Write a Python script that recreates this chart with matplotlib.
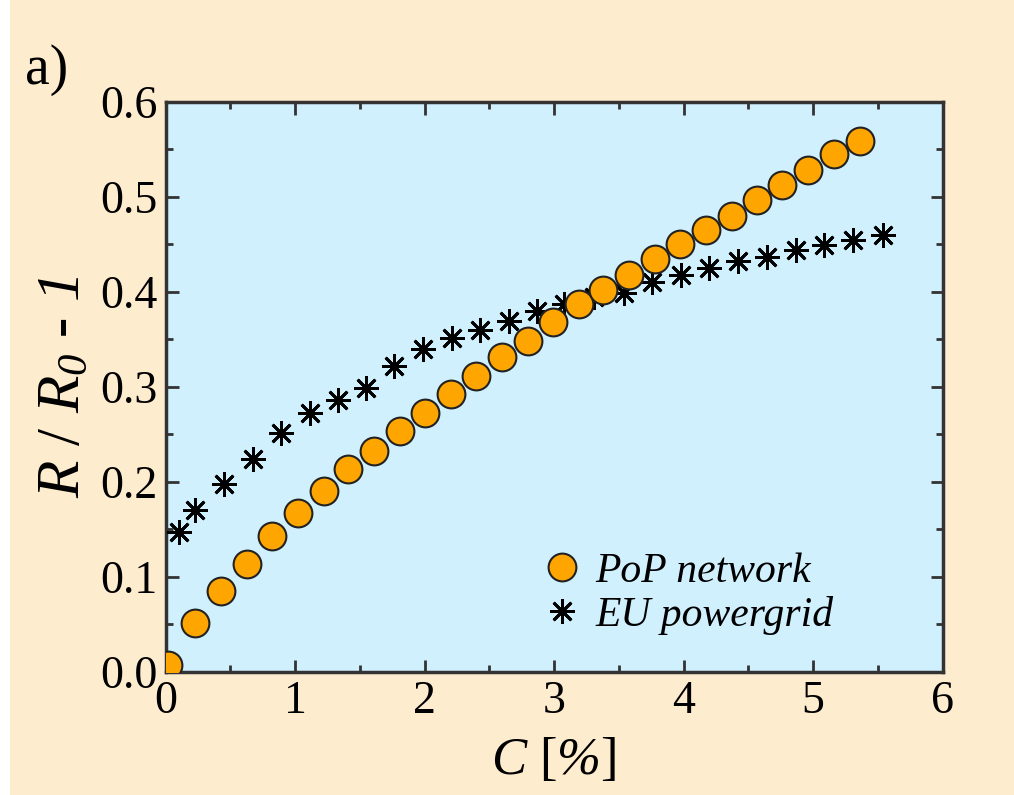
import numpy as np
import matplotlib.pyplot as plt
from matplotlib.patches import Rectangle
from matplotlib.ticker import MultipleLocator, FormatStrFormatter

# PoP network
pop_c = [0.02, 0.23, 0.43, 0.63, 0.82, 1.02, 1.22, 1.41, 1.61, 1.81, 2.00, 2.20,
         2.40, 2.60, 2.80, 2.99, 3.19, 3.38, 3.58, 3.78, 3.97, 4.17, 4.37, 4.57,
         4.76, 4.96, 5.16, 5.36]
pop_r = [0.007, 0.052, 0.085, 0.114, 0.143, 0.167, 0.190, 0.214, 0.233, 0.254, 0.272, 0.292,
         0.311, 0.331, 0.348, 0.368, 0.387, 0.402, 0.418, 0.434, 0.450, 0.465, 0.480, 0.497,
         0.512, 0.528, 0.545, 0.559]

# EU powergrid
eu_c = [0.0, 0.105, 0.227, 0.451, 0.672, 0.889, 1.111, 1.327, 1.549, 1.766, 1.988, 2.212,
        2.431, 2.65, 2.864, 3.075, 3.307, 3.54, 3.759, 3.977, 4.197, 4.421, 4.643, 4.867,
        5.086, 5.305, 5.537]
eu_r = [0.0, 0.147, 0.170, 0.198, 0.224, 0.251, 0.273, 0.286, 0.299, 0.322, 0.340, 0.351,
        0.360, 0.369, 0.380, 0.387, 0.394, 0.399, 0.410, 0.418, 0.425, 0.432, 0.437, 0.444,
        0.449, 0.454, 0.460]

plt.rcParams['font.family'] = ['Liberation Serif', 'DejaVu Serif']
# all math pieces (axis labels only) in italic serif
plt.rcParams['mathtext.fontset'] = 'custom'
plt.rcParams['mathtext.it'] = 'Liberation Serif:italic'
plt.rcParams['mathtext.rm'] = 'Liberation Serif:italic'

fig = plt.figure(figsize=(10.14, 7.95), dpi=100, facecolor='#FEECCE')
fig.patches.append(Rectangle((0, 0), 10 / 1014, 1, transform=fig.transFigure,
                             facecolor='white', edgecolor='none'))
ax = fig.add_axes([0.1634, 0.1547, 0.7662, 0.7174])
ax.set_facecolor('#D0F0FE')

ax.plot(eu_c, eu_r, linestyle='none', marker=(8, 2, 0), markersize=18,
        markeredgewidth=2.0, color='black', label='EU powergrid', zorder=3)
ax.plot(pop_c, pop_r, linestyle='none', marker='o', markersize=20,
        markerfacecolor='#FFA500', markeredgecolor='#222222', markeredgewidth=1.5,
        label='PoP network', zorder=4)

ax.set_xlim(0, 6)
ax.set_ylim(0, 0.6)
ax.xaxis.set_major_locator(MultipleLocator(1))
ax.xaxis.set_minor_locator(MultipleLocator(0.5))
ax.yaxis.set_major_locator(MultipleLocator(0.1))
ax.yaxis.set_minor_locator(MultipleLocator(0.05))
ax.yaxis.set_major_formatter(FormatStrFormatter('%.1f'))
ax.tick_params(which='both', direction='in', top=True, right=True,
               width=2, color='#333333', labelsize=33, pad=6)
ax.tick_params(which='major', length=9)
ax.tick_params(which='minor', length=5)
for s in ax.spines.values():
    s.set_linewidth(2.5)
    s.set_color('#333333')

ax.set_xlabel(r'$C$ [$\%$]', fontsize=38, labelpad=10)
ax.set_ylabel(r'$R$ / $R_{0}$ - $1$', fontsize=44, labelpad=6)

h, l = ax.get_legend_handles_labels()
ax.legend(h[::-1], l[::-1], loc='lower left', bbox_to_anchor=(0.44, 0.0),
          frameon=False, handlelength=0.8, handletextpad=0.4, labelspacing=0.12,
          prop={'style': 'italic', 'size': 30})

fig.text(0.025, 0.895, 'a)', fontsize=40)

fig.savefig('out.png', dpi=100, facecolor=fig.get_facecolor())
